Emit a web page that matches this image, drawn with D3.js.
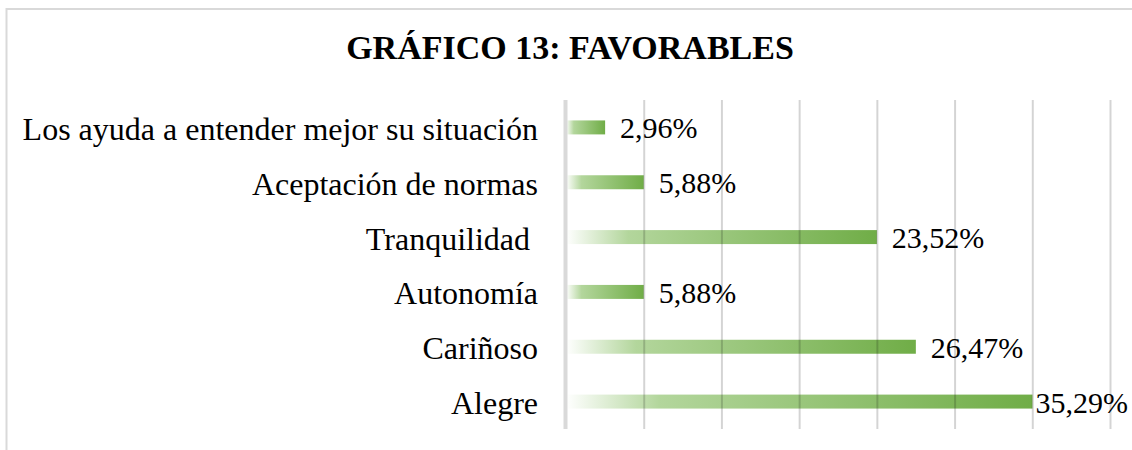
<!DOCTYPE html>
<html>
<head>
<meta charset="utf-8">
<script src="https://cdn.jsdelivr.net/npm/d3@7"></script>
<style>
    body { margin: 0; background: #fff; }
    text { font-family: "Liberation Serif", "Times New Roman", serif; fill: #000; }
</style>
</head>
<body>
<svg id="chart" width="1132" height="450"></svg>
<script>
// Data
const categories = ["Los ayuda a entender mejor su situación", "Aceptación de normas", "Tranquilidad ", "Autonomía", "Cariñoso", "Alegre"];
const values = [2.96, 5.88, 23.52, 5.88, 26.47, 35.29];
const valueLabels = ["2,96%", "5,88%", "23,52%", "5,88%", "26,47%", "35,29%"];
const tickValues = [0, 5.88, 11.76, 17.64, 23.52, 29.40, 35.28, 41.16];

const data = categories.map((c, i) => ({ cat: c, value: values[i], label: valueLabels[i] }));

const svg = d3.select('#chart');

// chart frame (runs off the right and bottom of the picture)
svg.append('rect')
    .attr('x', 6.5)
    .attr('y', 9)
    .attr('width', 1140)
    .attr('height', 460)
    .attr('fill', 'none')
    .attr('stroke', '#d9d9d9')
    .attr('stroke-width', 2);

const plotLeft = 566, plotRight = 1110, plotTop = 100, plotBottom = 429;

const xScale = d3.scaleLinear()
    .domain([0, d3.max(tickValues)])
    .range([plotLeft, plotRight]);

const yScale = d3.scaleBand()
    .domain(categories)
    .range([plotTop, plotBottom])
    .paddingInner(0.745)
    .paddingOuter(0.3725);

// gradient like the Excel fill
const grad = svg.append('defs').append('linearGradient')
    .attr('id', 'barGrad')
    .attr('x1', '0%').attr('x2', '100%')
    .attr('y1', '0%').attr('y2', '0%');
grad.append('stop').attr('offset', '0%').attr('stop-color', '#ffffff');
grad.append('stop').attr('offset', '20%').attr('stop-color', '#b3d69c');
grad.append('stop').attr('offset', '100%').attr('stop-color', '#70ad47');

// title
svg.append('text')
    .attr('x', 570)
    .attr('y', 59)
    .attr('text-anchor', 'middle')
    .style('font-weight', 'bold')
    .style('font-size', '34px')
    .text('GRÁFICO 13: FAVORABLES');

// bars
svg.append('g')
    .selectAll('rect')
    .data(data)
    .enter()
    .append('rect')
    .attr('x', xScale(0))
    .attr('y', d => yScale(d.cat))
    .attr('width', d => xScale(d.value) - xScale(0))
    .attr('height', yScale.bandwidth())
    .attr('fill', 'url(#barGrad)');

// vertical grid lines (on top, the bars show them through)
const grid = svg.append('g')
    .attr('class', 'grid')
    .attr('transform', `translate(0, ${plotBottom})`)
    .call(d3.axisBottom(xScale)
        .tickValues(tickValues.slice(1))
        .tickSize(-(plotBottom - plotTop))
        .tickFormat('')
    );
grid.select('.domain').remove();
grid.selectAll('.tick line')
    .attr('stroke', '#000')
    .attr('stroke-opacity', 0.17)
    .attr('stroke-width', 2);

// category axis line
svg.append('line')
    .attr('x1', xScale(0) - 0.5)
    .attr('x2', xScale(0) - 0.5)
    .attr('y1', plotTop)
    .attr('y2', plotBottom)
    .attr('stroke', '#d9d9d9')
    .attr('stroke-width', 4);

// category labels
svg.append('g')
    .selectAll('text')
    .data(data)
    .enter()
    .append('text')
    .attr('x', plotLeft - 28)
    .attr('y', d => yScale(d.cat) + yScale.bandwidth() / 2 + 12.5)
    .attr('text-anchor', 'end')
    .style('white-space', 'pre')
    .style('font-size', '32px')
    .text(d => d.cat);

// value labels
svg.append('g')
    .selectAll('text')
    .data(data)
    .enter()
    .append('text')
    .attr('y', d => yScale(d.cat) + yScale.bandwidth() / 2 + 11)
    .style('font-size', '30px')
    .text(d => d.label)
    .attr('x', function (d) {
        const w = this.getComputedTextLength();
        return Math.min(xScale(d.value) + 15, 1128 - w);
    });
</script>
</body>
</html>
